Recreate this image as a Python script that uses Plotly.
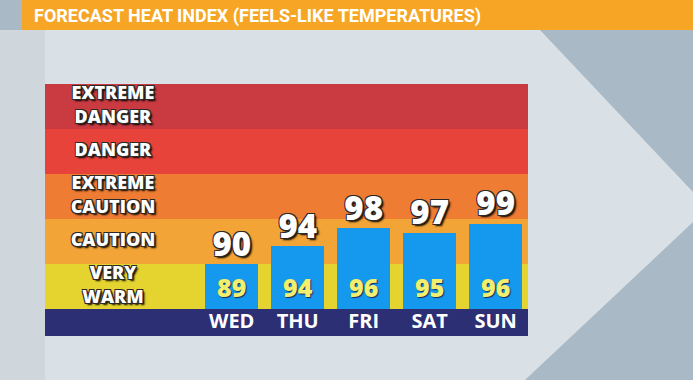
import plotly.graph_objects as go

# ---- data ----
days = ["WED", "THU", "FRI", "SAT", "SUN"]
heat_index = [90, 94, 98, 97, 99]        # forecast heat index (top numbers)
temperature = [89, 94, 96, 95, 96]       # air temperature (yellow numbers)
band_labels = ["VERY<br>WARM", "CAUTION", "EXTREME<br>CAUTION", "DANGER", "EXTREME<br>DANGER"]
band_edges = [80, 90, 100, 110, 120, 130]
band_colors = ["#e5d42f", "#f3a436", "#ef7c33", "#e8433b", "#c93a41"]
title_text = "FORECAST HEAT INDEX (FEELS-LIKE TEMPERATURES)"

BASE = 80
Y_MIN = 74
W, H = 693, 380

xs = list(range(len(days)))

def px(x):
    return x / W

def py(y):
    return 1 - y / H

outline = ("-1px -1px 0 #2a2a2a, 1px -1px 0 #2a2a2a, -1px 1px 0 #2a2a2a, "
           "1px 1px 0 #2a2a2a, 2px 2px 2px #000")

fig = go.Figure()

# bars
fig.add_trace(go.Bar(
    x=xs, y=[v - BASE for v in heat_index], base=BASE,
    width=0.8, marker=dict(color="#1599ee", line=dict(width=0)),
    hoverinfo="skip", showlegend=False,
))

# heat index numbers above bars
fig.add_trace(go.Scatter(
    x=xs, y=heat_index, mode="text", text=[str(v) for v in heat_index],
    textposition="top center",
    textfont=dict(family="Open Sans", size=33, color="white", weight=800, shadow=outline),
    hoverinfo="skip", showlegend=False,
))

# temperature numbers inside bars
fig.add_trace(go.Scatter(
    x=xs, y=[BASE + 1.2] * len(xs), mode="text", text=[str(v) for v in temperature],
    textposition="top center",
    textfont=dict(family="Open Sans", size=25, color="#f3ef6e", weight=800,
                  shadow="1px 1px 1px #1a2a5a"),
    hoverinfo="skip", showlegend=False,
))

# day labels in the navy strip
fig.add_trace(go.Scatter(
    x=xs, y=[(Y_MIN + BASE) / 2 - 0.2] * len(xs), mode="text", text=days,
    textposition="middle center",
    textfont=dict(family="Open Sans", size=20, color="white", weight=700),
    hoverinfo="skip", showlegend=False,
))

# band labels
band_mids = [(band_edges[i] + band_edges[i + 1]) / 2 for i in range(len(band_labels))]
fig.add_trace(go.Scatter(
    x=[-1.8] * len(band_labels), y=band_mids, mode="text", text=band_labels,
    textposition="middle center",
    textfont=dict(family="Open Sans", size=18, color="white", weight=800, shadow=outline),
    hoverinfo="skip", showlegend=False,
))

shapes = []
# background light chevron region
shapes.append(dict(
    type="path", xref="paper", yref="paper", layer="below",
    path=(f"M {px(0)},{py(30)} L {px(540)},{py(30)} L {px(708)},{py(208)} "
          f"L {px(525)},{py(380)} L {px(0)},{py(380)} Z"),
    fillcolor="#d9e1e6", line=dict(width=0),
))
# slightly darker left strip
shapes.append(dict(
    type="path", xref="paper", yref="paper", layer="below",
    path=(f"M {px(0)},{py(30)} L {px(45)},{py(30)} L {px(45)},{py(380)} L {px(0)},{py(380)} Z"),
    fillcolor="#cfd7dc", line=dict(width=0),
))
# title bar
shapes.append(dict(
    type="rect", xref="paper", yref="paper", layer="below",
    x0=px(22), x1=1, y0=py(30), y1=1,
    fillcolor="#f6a624", line=dict(width=0),
))
# heat bands
for i, c in enumerate(band_colors):
    shapes.append(dict(
        type="rect", xref="x domain", yref="y", layer="below",
        x0=0, x1=1, y0=band_edges[i], y1=band_edges[i + 1],
        fillcolor=c, line=dict(width=0),
    ))
# navy strip
shapes.append(dict(
    type="rect", xref="x domain", yref="y", layer="below",
    x0=0, x1=1, y0=Y_MIN, y1=BASE,
    fillcolor="#2c2f74", line=dict(width=0),
))

fig.update_layout(
    width=W, height=H,
    margin=dict(l=0, r=0, t=0, b=0),
    paper_bgcolor="#a9b9c6",
    plot_bgcolor="rgba(0,0,0,0)",
    shapes=shapes,
    xaxis=dict(domain=[px(45), px(528)], range=[-2.83, 4.49], visible=False, fixedrange=True),
    yaxis=dict(domain=[py(336), py(84)], range=[Y_MIN, 130], visible=False, fixedrange=True),
    annotations=[dict(
        xref="paper", yref="paper", x=px(32), y=py(16), xanchor="left", yanchor="middle",
        text=title_text, showarrow=False,
        font=dict(family="Roboto", size=18, color="white", weight=700),
    )],
    bargap=0,
)

fig.write_html(
    "out.html",
    config={"displayModeBar": False, "staticPlot": True},
    post_script="document.body.style.margin='0';document.body.style.overflow='hidden';",
)
